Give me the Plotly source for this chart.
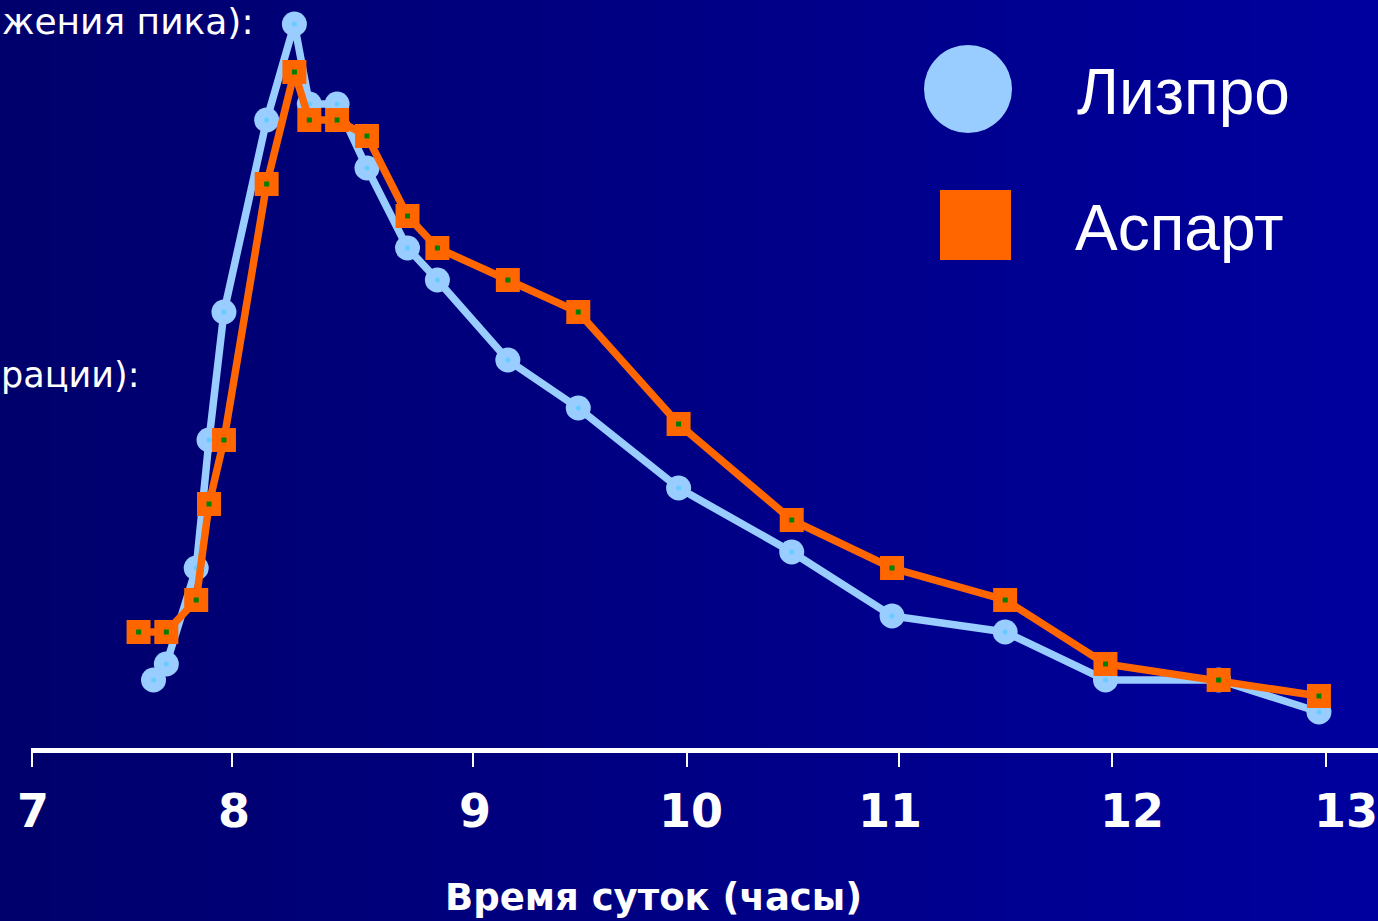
import plotly.graph_objects as go

# ---- data (time of day in hours, insulin concentration in arbitrary units) ----
lispro_time = [7.54, 7.60, 7.74, 7.80, 7.87, 8.07, 8.20, 8.27, 8.40, 8.54, 8.73, 8.87,
               9.20, 9.53, 10.0, 10.53, 11.0, 11.53, 12.0, 12.53, 13.0]
lispro_conc = [8, 10, 22, 38, 54, 78, 90, 80, 80, 72, 62, 58,
               48, 42, 32, 24, 16, 14, 8, 8, 4]

aspart_time = [7.47, 7.60, 7.74, 7.80, 7.87, 8.07, 8.20, 8.27, 8.40, 8.54, 8.73, 8.87,
               9.20, 9.53, 10.0, 10.53, 11.0, 11.53, 12.0, 12.53, 13.0]
aspart_conc = [14, 14, 18, 30, 38, 70, 84, 78, 78, 76, 66, 62,
               58, 54, 40, 28, 22, 18, 10, 8, 6]

tick_positions = [6.9705, 7.907, 9.035, 10.037, 11.034, 12.031, 13.033]
tick_label_positions = [6.975, 7.916, 9.044, 10.059, 10.991, 12.124, 13.126]
tick_labels = ["7", "8", "9", "10", "11", "12", "13"]

series_names = ["Лизпро", "Аспарт"]
x_title = "Время суток (часы)"
side_texts = ["жения пика):", "рации):"]

# ---- geometry helpers (figure pixels -> paper coords) ----
W, H = 1378, 921
ML, MR, MT, MB = 31, 0, 0, 173
PW, PH = W - ML - MR, H - MT - MB


def px(xp):
    return (xp - ML) / PW


def py(yp):
    return (H - MB - yp) / PH


LIGHT_BLUE = "#99CCFF"
ORANGE = "#FF6600"

fig = go.Figure()

fig.add_trace(go.Scatter(
    x=lispro_time, y=lispro_conc, mode="lines+markers", name=series_names[0],
    line=dict(color=LIGHT_BLUE, width=7.5),
    marker=dict(symbol="circle", size=25, color=LIGHT_BLUE, line=dict(width=0)),
    showlegend=False, cliponaxis=False))
fig.add_trace(go.Scatter(
    x=lispro_time, y=lispro_conc, mode="markers", hoverinfo="skip",
    marker=dict(symbol="circle", size=5, color="#66CCFF", line=dict(width=0)),
    showlegend=False, cliponaxis=False))
fig.add_trace(go.Scatter(
    x=aspart_time, y=aspart_conc, mode="lines+markers", name=series_names[1],
    line=dict(color=ORANGE, width=7.5),
    marker=dict(symbol="square", size=24, color=ORANGE, line=dict(width=0)),
    showlegend=False, cliponaxis=False))
fig.add_trace(go.Scatter(
    x=aspart_time, y=aspart_conc, mode="markers", hoverinfo="skip",
    marker=dict(symbol="square", size=5, color="#008000", line=dict(width=0)),
    showlegend=False, cliponaxis=False))

# ---- background gradient (left dark navy -> right blue) ----
shapes = []
n = 140
c0, c1 = (0, 0, 108), (0, 0, 158)
for i in range(n):
    x0 = i * W / n
    x1 = (i + 1) * W / n + 1
    t = i / (n - 1)
    col = "rgb(%d,%d,%d)" % tuple(round(a + (b - a) * t) for a, b in zip(c0, c1))
    shapes.append(dict(type="rect", xref="paper", yref="paper", layer="below",
                       x0=px(x0), x1=px(x1), y0=py(H), y1=py(0),
                       fillcolor=col, line=dict(width=0)))

# ---- legend markers ----
shapes.append(dict(type="circle", xref="paper", yref="paper",
                   x0=px(924), x1=px(1012), y0=py(133), y1=py(45),
                   fillcolor=LIGHT_BLUE, line=dict(width=0)))
shapes.append(dict(type="rect", xref="paper", yref="paper",
                   x0=px(940), x1=px(1011), y0=py(260), y1=py(190),
                   fillcolor=ORANGE, line=dict(width=0)))

annotations = []
for pos, lab in zip(tick_label_positions, tick_labels):
    annotations.append(dict(x=pos, y=py(811), xref="x", yref="paper", text="<b>" + lab + "</b>",
                            showarrow=False, xanchor="center", yanchor="middle",
                            font=dict(family="DejaVu Sans", size=46, color="white")))
annotations.append(dict(x=px(653), y=py(898), xref="paper", yref="paper", text="<b>" + x_title + "</b>",
                        showarrow=False, xanchor="center", yanchor="middle",
                        font=dict(family="DejaVu Sans", size=37, color="white")))
annotations.append(dict(x=px(1075), y=py(92), xref="paper", yref="paper", text=series_names[0],
                        showarrow=False, xanchor="left", yanchor="middle",
                        font=dict(family="Liberation Sans", size=64, color="white")))
annotations.append(dict(x=px(1073), y=py(228), xref="paper", yref="paper", text=series_names[1],
                        showarrow=False, xanchor="left", yanchor="middle",
                        font=dict(family="Liberation Sans", size=64, color="white")))
annotations.append(dict(x=px(256), y=py(21), xref="paper", yref="paper", text=side_texts[0],
                        showarrow=False, xanchor="right", yanchor="middle",
                        font=dict(family="DejaVu Sans", size=36, color="white")))
annotations.append(dict(x=px(141), y=py(375), xref="paper", yref="paper", text=side_texts[1],
                        showarrow=False, xanchor="right", yanchor="middle",
                        font=dict(family="DejaVu Sans", size=35, color="white")))

fig.update_layout(
    width=W, height=H,
    margin=dict(l=ML, r=MR, t=MT, b=MB, pad=0),
    paper_bgcolor="#000080", plot_bgcolor="rgba(0,0,0,0)",
    shapes=shapes, annotations=annotations,
    xaxis=dict(range=[6.966, 13.2767], showgrid=False, zeroline=False,
               showline=True, linecolor="white", linewidth=5,
               ticks="outside", ticklen=14, tickwidth=2, tickcolor="white",
               tickvals=tick_positions, showticklabels=False),
    yaxis=dict(range=[-0.5, 93], showgrid=False, zeroline=False, showline=False,
               showticklabels=False, ticks=""),
    showlegend=False,
)

fig.write_html(
    "out.html",
    config={"displayModeBar": False},
    post_script="document.body.style.margin='0px';document.body.style.overflow='hidden';"
                "document.documentElement.style.overflow='hidden';",
)
